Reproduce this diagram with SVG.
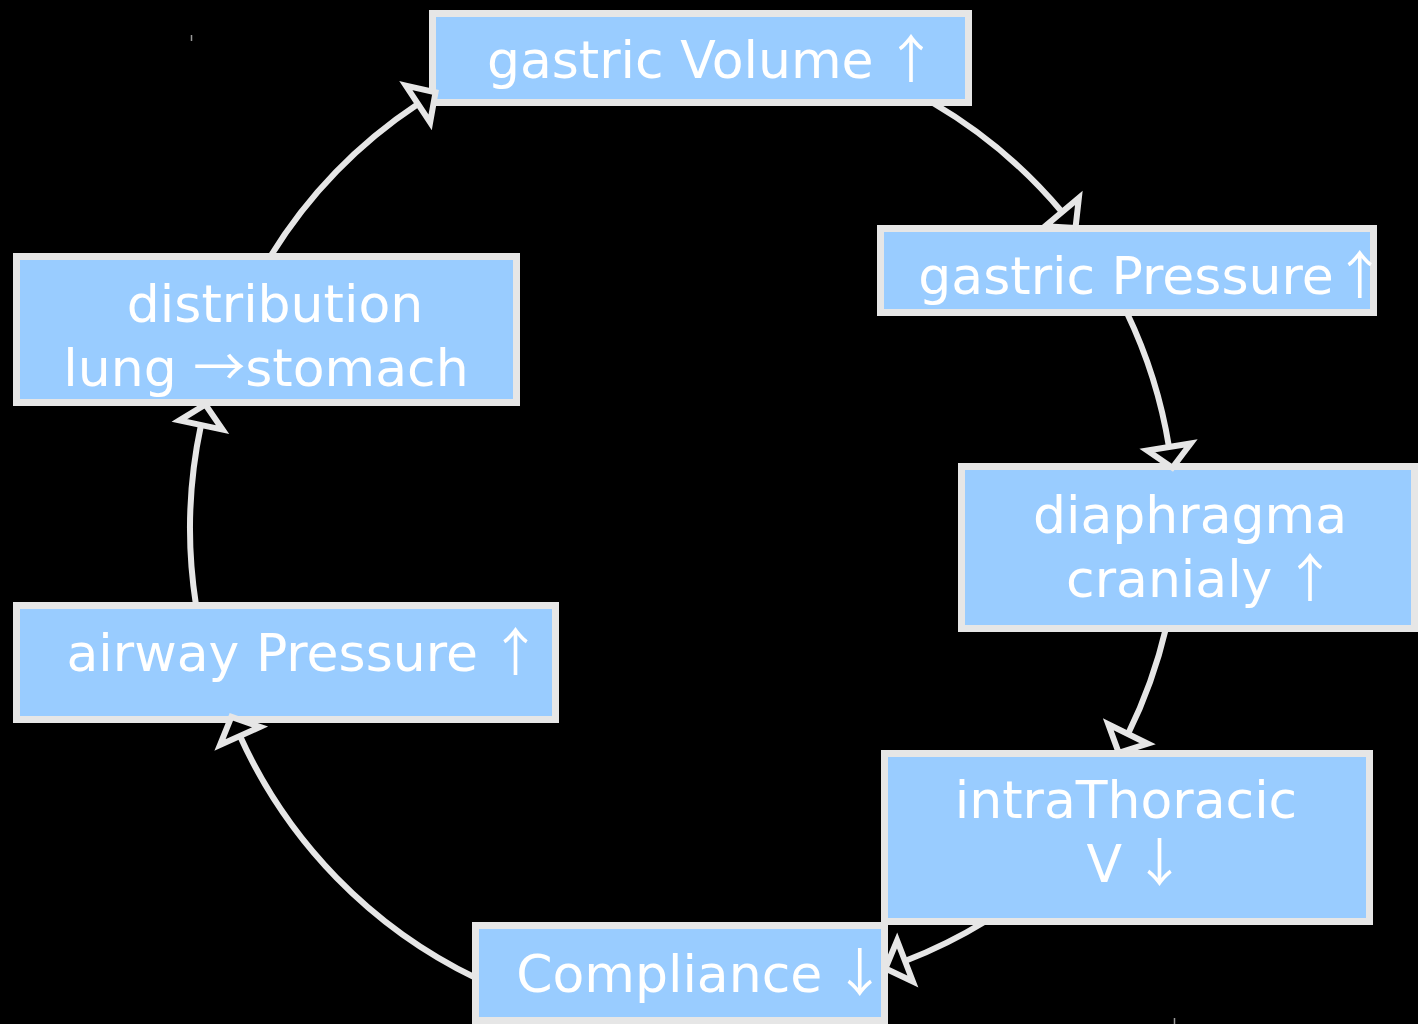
<svg xmlns="http://www.w3.org/2000/svg" width="1418" height="1024" viewBox="0 0 1418 1024">
  <defs>
    <style>
      .box { fill: #99ccff; stroke: #e6e6e6; stroke-width: 7; }
      .lbl { fill: #ffffff; font-family: "DejaVu Sans", Verdana, sans-serif; font-size: 52px; text-anchor: middle; }
      .arw { font-family: "Noto Sans CJK JP", "DejaVu Sans", sans-serif; }
      .con { fill: none; stroke: #e6e6e6; stroke-width: 6; marker-end: url(#ah); }
    </style>
    <marker id="ah" markerUnits="userSpaceOnUse" markerWidth="60" markerHeight="60" viewBox="-10 -30 50 60" refX="0" refY="0" orient="auto" overflow="visible">
      <path d="M0,-22 L21,0 L0,22 Z" fill="#000000" stroke="#e6e6e6" stroke-width="6" stroke-linejoin="miter"/>
    </marker>
  </defs>
  <rect x="0" y="0" width="1418" height="1024" fill="#000000"/>
  <line x1="191.5" y1="35" x2="191.5" y2="41" stroke="#999999" stroke-width="1.5"/>
  <line x1="1174.5" y1="1018" x2="1174.5" y2="1024" stroke="#999999" stroke-width="1.5"/>

  <g id="nodes">
    <g id="gastric-volume">
      <rect class="box" x="432.5" y="13.5" width="536" height="89"/>
      <text class="lbl" x="712" y="78">gastric Volume <tspan class="arw" dx="-5">↑</tspan></text>
    </g>
    <g id="gastric-pressure">
      <rect class="box" x="880.5" y="228.5" width="493" height="84"/>
      <text class="lbl" x="1152" y="294">gastric Pressure<tspan class="arw">↑</tspan></text>
    </g>
    <g id="diaphragma">
      <rect class="box" x="961.5" y="466.5" width="453" height="162"/>
      <text class="lbl" x="1190" y="533">diaphragma</text>
      <text class="lbl" x="1201" y="597">cranialy <tspan class="arw" dx="-5">↑</tspan></text>
    </g>
    <g id="intrathoracic">
      <rect class="box" x="884.5" y="753.5" width="485" height="168"/>
      <text class="lbl" x="1126" y="818">intraThoracic</text>
      <text class="lbl" x="1136" y="882">V <tspan class="arw" dx="-5">↓</tspan></text>
    </g>
    <g id="compliance">
      <rect class="box" x="475.5" y="925.5" width="409" height="95"/>
      <text class="lbl" x="701" y="992">Compliance <tspan class="arw" dx="-5">↓</tspan></text>
    </g>
    <g id="airway-pressure">
      <rect class="box" x="16.5" y="605.5" width="539" height="114"/>
      <text class="lbl" x="304" y="671">airway Pressure <tspan class="arw" dx="-5">↑</tspan></text>
    </g>
    <g id="distribution">
      <rect class="box" x="16.5" y="256.5" width="500" height="146"/>
      <text class="lbl" x="275" y="322">distribution</text>
      <text class="lbl" x="266" y="386">lung <tspan class="arw">→</tspan>stomach</text>
    </g>
  </g>

  <g id="connectors">
    <path class="con" d="M933,103 A494,494 0 0 1 1062,212"/>
    <path class="con" d="M1127,313 A494,494 0 0 1 1169,447"/>
    <path class="con" d="M1166,628 A494,494 0 0 1 1128,734"/>
    <path class="con" d="M986,921 A494,494 0 0 1 905,961"/>
    <path class="con" d="M476,978 A494,494 0 0 1 240,736"/>
    <path class="con" d="M196,605 A494,494 0 0 1 201,425"/>
    <path class="con" d="M270,257 A494,494 0 0 1 418,104"/>
  </g>
</svg>
